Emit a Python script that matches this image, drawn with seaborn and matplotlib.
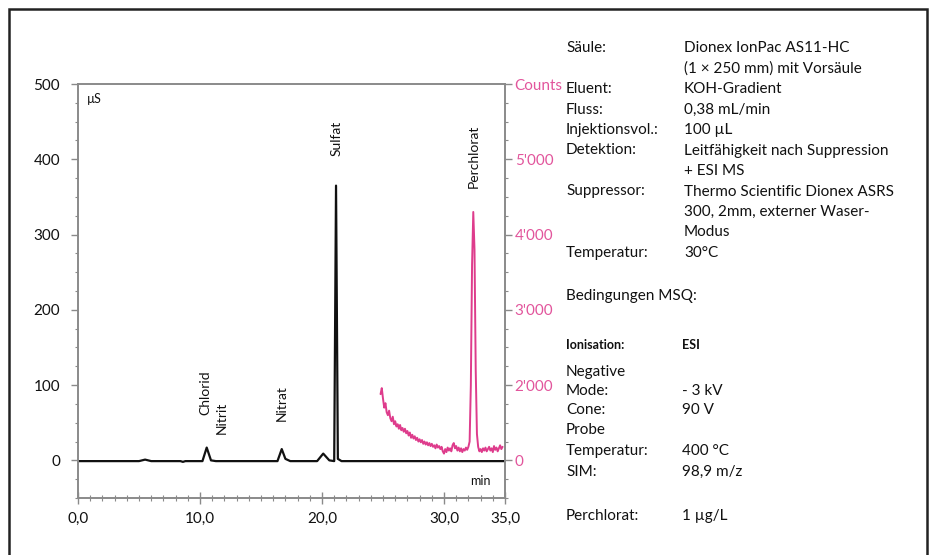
import matplotlib
matplotlib.use("Agg")
import matplotlib.pyplot as plt
from matplotlib.patches import Rectangle
from matplotlib.ticker import MultipleLocator
import seaborn as sns
import pandas as pd

# ---------------- data ----------------
# conductivity trace (µS) vs time (min)
cond_time = [0.0, 5.0, 5.5, 6.0, 8.4, 8.6, 8.8, 10.2, 10.55, 10.9, 11.3,
             16.35, 16.7, 17.0, 17.4, 19.6, 20.1, 20.6, 21.0, 21.15, 21.3, 21.6, 35.0]
cond_uS = [-1, -1, 1, -1, -1, -2, -1, -1, 17, 0, -1,
           -1, 15, 2, -1, -1, 9, 0, -1, 365, 2, -1, -1]

# MS trace (counts) vs time (min)
ms_time = [round(24.8 + 0.1 * i, 1) for i in range(101)]
ms_counts = [880, 960, 820, 700, 760, 640, 600, 660, 560, 520,
             580, 480, 520, 450, 480, 420, 470, 400, 430, 380,
             420, 360, 390, 330, 370, 300, 340, 290, 320, 270,
             300, 250, 280, 240, 270, 220, 250, 210, 240, 200,
             230, 190, 220, 180, 200, 160, 210, 170, 190, 150,
             180, 120, 90, 150, 110, 170, 130, 160, 120, 200,
             230, 160, 190, 130, 170, 120, 160, 110, 150, 130,
             170, 140, 180, 250, 1000, 2600, 3300, 2800, 1200, 350,
             180, 120, 150, 110, 160, 130, 170, 120, 150, 180,
             130, 160, 110, 190, 140, 170, 120, 160, 200, 150,
             180]

# peak annotations
peak_names = ["Chlorid", "Nitrit", "Nitrat", "Sulfat", "Perchlorat"]
peak_x = [10.45, 11.8, 16.7, 21.2, 32.4]
peak_y = [90, 57, 76, 428, 404]

# axis ticks
x_ticks = [0, 10, 20, 30, 35]
x_ticklabels = ["0,0", "10,0", "20,0", "30,0", "35,0"]
y_ticks = [0, 100, 200, 300, 400, 500]
y_ticklabels = ["0", "100", "200", "300", "400", "500"]
y2_ticks = [0, 1000, 2000, 3000, 4000, 5000]
y2_ticklabels = ["0", "2'000", "3'000", "4'000", "5'000", "Counts"]

# conditions text
cond_labels = ["Säule:", "", "Eluent:", "Fluss:", "Injektionsvol.:", "Detektion:", "",
               "Suppressor:", "", "", "Temperatur:"]
cond_values = ["Dionex IonPac AS11-HC", "(1 × 250 mm) mit Vorsäule", "KOH-Gradient",
               "0,38 mL/min", "100 µL", "Leitfähigkeit nach Suppression", "+ ESI MS",
               "Thermo Scientific Dionex ASRS", "300, 2mm, externer Waser-", "Modus", "30°C"]
msq_title = "Bedingungen MSQ:"
msq_labels = ["Ionisation:", "Negative", "Mode:", "Cone:", "Probe", "Temperatur:", "SIM:", "Perchlorat:"]
msq_values = ["ESI", "", "- 3 kV", "90 V", "", "400 °C", "98,9 m/z", "1 µg/L"]

# ---------------- style ----------------
sns.set_theme(style="white")
plt.rcParams['font.family'] = ['Lato', 'DejaVu Sans']

PINK = "#DE3C8C"
PINK_TXT = "#E2559C"
GRAY = "#8a8a8a"
TXT = "#111111"

W, H = 930, 555
fig = plt.figure(figsize=(W / 100, H / 100), dpi=100)
fig.patch.set_facecolor("white")


def fx(px):
    return px / W


def fy(py):
    return 1 - py / H


ax = fig.add_axes([fx(78), fy(498), fx(505) - fx(78), fy(84) - fy(498)])
ax2 = ax.twinx()

cond_df = pd.DataFrame({"t": cond_time, "v": cond_uS})
ms_df = pd.DataFrame({"t": ms_time, "v": ms_counts})

sns.lineplot(data=cond_df, x="t", y="v", ax=ax, color="#111111", lw=1.6,
             estimator=None, sort=False)
sns.lineplot(data=ms_df, x="t", y="v", ax=ax2, color=PINK, lw=1.4,
             estimator=None, sort=False)

ax.set_xlim(0, 35)
ax.set_ylim(-50, 500)
ax2.set_ylim(-500, 5000)
ax.set_xlabel("")
ax.set_ylabel("")
ax2.set_ylabel("")

for a in (ax, ax2):
    for s in a.spines.values():
        s.set_color(GRAY)
        s.set_linewidth(1.2)

ax.set_xticks(x_ticks)
ax.set_xticklabels(x_ticklabels)
ax.xaxis.set_minor_locator(MultipleLocator(1))
ax.set_yticks(y_ticks)
ax.set_yticklabels(y_ticklabels)
ax.yaxis.set_minor_locator(MultipleLocator(25))
ax2.set_yticks(y2_ticks)
ax2.set_yticklabels(y2_ticklabels)
ax2.yaxis.set_minor_locator(MultipleLocator(250))

ax.tick_params(axis="x", which="major", direction="inout", length=8, width=1,
               color=GRAY, labelsize=11, labelcolor=TXT, pad=6, bottom=True)
ax.tick_params(axis="x", which="minor", direction="inout", length=5, width=0.8,
               color=GRAY, bottom=True)
ax.tick_params(axis="y", which="major", direction="out", length=5, width=1,
               color=GRAY, labelsize=11, labelcolor=TXT, pad=8, left=True)
ax.tick_params(axis="y", which="minor", direction="out", length=2.5, width=0.8,
               color=GRAY, left=True)
ax2.tick_params(axis="y", which="major", direction="out", length=5, width=1,
                color=GRAY, labelsize=11, labelcolor=PINK_TXT, pad=2, right=True)
ax2.tick_params(axis="y", which="minor", direction="out", length=2.5, width=0.8,
                color=GRAY, right=True)

ax.text(0.7, 480, "µS", fontsize=9, color=TXT, va="center", ha="left")
ax.text(33.8, -28, "min", fontsize=9, color=TXT, va="center", ha="right")

for name, xv, yv in zip(peak_names, peak_x, peak_y):
    ax.text(xv, yv, name, rotation=90, fontsize=10, color=TXT,
            ha="center", va="center")

# conditions panel
lab_x, val_x = 566, 684
y0, dy = 48, 20.5
FS = 11
for i, (lab, val) in enumerate(zip(cond_labels, cond_values)):
    yy = y0 + i * dy
    if lab:
        fig.text(fx(lab_x), fy(yy), lab, fontsize=FS, color=TXT, va="center", ha="left")
    fig.text(fx(val_x), fy(yy), val, fontsize=FS, color=TXT, va="center", ha="left")

fig.text(fx(lab_x), fy(296), msq_title, fontsize=FS, color=TXT, va="center", ha="left")
msq_y = [345, 372, 391, 410, 430, 451, 472, 516]
for lab, val, yy in zip(msq_labels, msq_values, msq_y):
    fs = 9 if lab == "Ionisation:" else FS
    fw = "bold" if lab == "Ionisation:" else "normal"
    fig.text(fx(lab_x), fy(yy), lab, fontsize=fs, fontweight=fw, color=TXT, va="center", ha="left")
    if val:
        fig.text(fx(682), fy(yy), val, fontsize=fs, fontweight=fw, color=TXT, va="center", ha="left")

# outer frame
fig.patches.append(Rectangle((fx(9), fy(565)), fx(927) - fx(9), fy(9) - fy(565),
                             transform=fig.transFigure, fill=False,
                             edgecolor="#222222", lw=1.8))

fig.savefig("out.png", dpi=100)
